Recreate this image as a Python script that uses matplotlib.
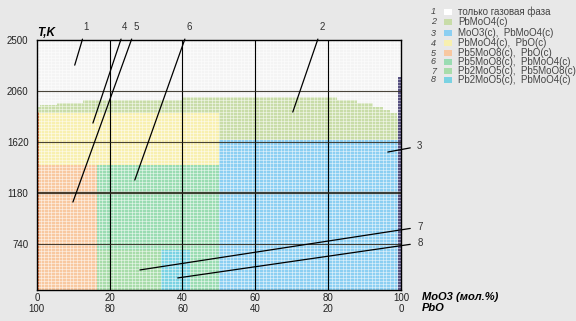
import matplotlib
matplotlib.use("Agg")
import matplotlib.pyplot as plt
from matplotlib.patches import Rectangle
import numpy as np

plt.rcParams["font.family"] = ["Liberation Sans", "DejaVu Sans"]

# --- data ---
x_ticks = [0, 20, 40, 60, 80, 100]
y_ticks = [740, 1180, 1620, 2060, 2500]
t_min, t_max = 343, 2500

# upper boundary of the condensed phases (step shape)
gas_top_x = [0, 0.8, 5.5, 12.6, 40, 82.4, 88, 92.3, 95, 97, 99, 100]
gas_top_T = [1922, 1940, 1957, 1983, 2008, 1983, 1957, 1922, 1896, 1870, 1827, 1827]

# rectangular phase fields: (x from, x to, T top)
field_4 = (0, 50, 1870)       # PbMoO4 + PbO
field_3 = (50, 100, 1640)     # MoO3 + PbMoO4
field_5 = (0, 16.5, 1420)     # Pb5MoO8 + PbO
field_6 = (16.5, 50, 1420)    # Pb5MoO8 + PbMoO4
field_7 = (16.5, 34, 690)     # Pb2MoO5 + Pb5MoO8
field_8 = (34, 42, 690)       # Pb2MoO5 + PbMoO4

legend_nums = ["1", "2", "3", "4", "5", "6", "7", "8"]
legend_labels = ["только газовая фаза", "PbMoO4(c)", "MoO3(c),  PbMoO4(c)",
                 "PbMoO4(c),  PbO(c)", "Pb5MoO8(c),  PbO(c)",
                 "Pb5MoO8(c),  PbMoO4(c)", "Pb2MoO5(c),  Pb5MoO8(c)",
                 "Pb2MoO5(c),  PbMoO4(c)"]
legend_colors = ["#ffffff", "#c8dca8", "#8ccff2", "#f8f0b0", "#f8c8a0",
                 "#9adcb2", "#a8dcaa", "#7ad2e2"]

# callouts: label, text position, tip position (data units)
callouts = [("1", (13.5, 2610), (10.4, 2284)),
            ("4", (24.2, 2610), (15.4, 1784)),
            ("5", (27.2, 2610), (9.9, 1102)),
            ("6", (41.8, 2610), (26.9, 1292)),
            ("2", (78.3, 2610), (70.3, 1879)),
            ("3", (105.2, 1585), (96.4, 1534)),
            ("7", (105.2, 887), (28.3, 516)),
            ("8", (105.2, 749), (38.7, 447))]

fig = plt.figure(figsize=(5.76, 3.21), dpi=100)
fig.patch.set_facecolor("#e8e8e8")
ax = fig.add_axes([0.064, 0.0966, 0.632, 0.7784])
ax.set_facecolor("#f4f4f4")
ax.set_xlim(0, 100)
ax.set_ylim(t_min, t_max)

# phase 2 everywhere below the gas boundary, others drawn over it
ax.fill_between(gas_top_x, gas_top_T, t_min, step="post",
                color=legend_colors[1], lw=0, zorder=1)
fields = [(field_4, 3), (field_3, 2), (field_5, 4), (field_6, 5),
          (field_7, 6), (field_8, 7)]
for (x0, x1, top), ci in fields:
    ax.add_patch(Rectangle((x0, t_min), x1 - x0, top - t_min,
                           facecolor=legend_colors[ci], lw=0, zorder=1))

# edge stripes
ax.add_patch(Rectangle((0, t_min), 0.5, 1880 - t_min, facecolor="#e07848",
                       lw=0, zorder=2))
ax.add_patch(Rectangle((99.2, t_min), 0.8, 2180 - t_min, facecolor="#565080",
                       lw=0, zorder=2))

# fine cell texture
ax.set_xticks(np.arange(0, 100, 1), minor=True)
ax.set_yticks(np.arange(t_min, t_max, 26), minor=True)
ax.grid(which="minor", color="white", lw=0.6, alpha=0.55, zorder=1.5)
ax.set_axisbelow(False)

# main grid lines
for xv in x_ticks[1:-1]:
    ax.axvline(xv, color="black", lw=0.8, zorder=3)
for yv in y_ticks[:-1]:
    lw = 1.6 if yv == 1180 else 0.8
    ax.axhline(yv, color="#2a2418", lw=lw, alpha=0.85, zorder=3)

ax.set_xticks(x_ticks)
ax.set_xticklabels([f"{v}\n{100 - v}" for v in x_ticks])
ax.set_yticks(y_ticks)
ax.tick_params(which="both", length=0, labelsize=7, colors="#222222")
ax.tick_params(axis="x", pad=2)
ax.tick_params(axis="y", pad=6)
for s in ax.spines.values():
    s.set_color("black")
    s.set_linewidth(1.0)
    s.set_zorder(4)

for lab, tpos, tip in callouts:
    ax.annotate(lab, xy=tip, xytext=tpos, fontsize=7, color="#333333",
                ha="center", va="center", annotation_clip=False,
                arrowprops=dict(arrowstyle="-", color="black", lw=0.9,
                                shrinkA=3, shrinkB=0), zorder=5)

fig.text(0.064, 0.897, "T,K", fontsize=8.5, fontweight="bold",
         fontstyle="italic", ha="left", va="center")
fig.text(0.733, 0.075, "MoO3 (мол.%)", fontsize=8, fontweight="bold",
         fontstyle="italic", ha="left", va="center")
fig.text(0.733, 0.040, "PbO", fontsize=8, fontweight="bold",
         fontstyle="italic", ha="left", va="center")

# legend
rows_y = [12, 22, 33, 43, 53, 62, 71, 80]
for num, lab, col, ry in zip(legend_nums, legend_labels, legend_colors, rows_y):
    fy = 1 - ry / 321
    fig.text(0.752, fy, num, fontsize=6.5, fontstyle="italic",
             color="#444444", ha="center", va="center")
    fig.patches.append(Rectangle((0.770, fy - 0.009), 0.014, 0.018,
                                 facecolor=col, lw=0,
                                 transform=fig.transFigure, figure=fig))
    fig.text(0.795, fy, lab, fontsize=7, color="#444444",
             ha="left", va="center")

fig.savefig("out.png", dpi=100, facecolor=fig.get_facecolor())
